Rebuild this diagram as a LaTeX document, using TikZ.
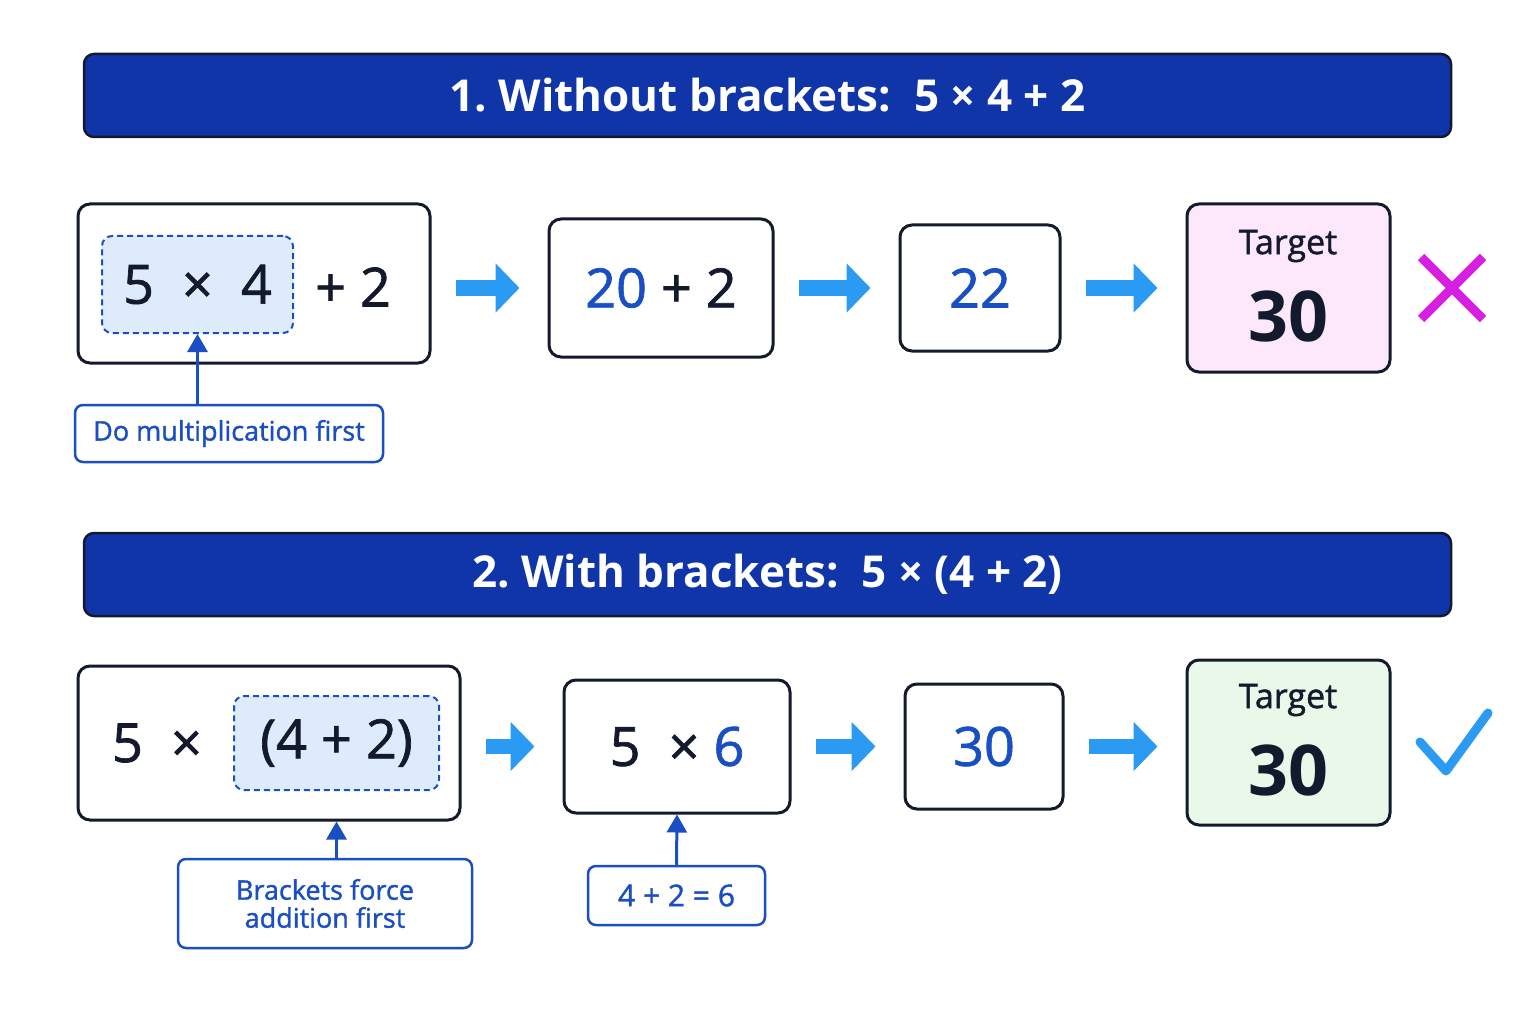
\documentclass[tikz,border=0pt]{standalone}
\usepackage{fontspec}
\setmainfont{Open Sans}
\newfontfamily\med[FakeBold=1.3]{Open Sans}
\usetikzlibrary{arrows.meta}
\definecolor{navy}{HTML}{0F35A8}
\definecolor{dark}{HTML}{141A2E}
\definecolor{tblue}{HTML}{1A4FC4}
\definecolor{arr}{HTML}{2B9AF3}
\definecolor{lblue}{HTML}{DDEBFB}
\definecolor{pinkf}{HTML}{FCE8FA}
\definecolor{greenf}{HTML}{EAF8EA}
\definecolor{mag}{HTML}{D61FE0}
\begin{document}
\begin{tikzpicture}[x=1pt,y=-1pt,
 banner/.style={draw=dark,line width=2.5pt,fill=navy,rounded corners=10pt,text=white,font=\fontsize{44}{50}\selectfont\bfseries,minimum width=1367pt,minimum height=83pt},
 box/.style={draw=dark,line width=3pt,rounded corners=12pt,fill=white,text=dark,font=\fontsize{54}{60}\selectfont\med},
 dbox/.style={draw=tblue,line width=2pt,dashed,dash pattern=on 6pt off 4pt,rounded corners=10pt,fill=lblue,text=dark,font=\fontsize{54}{60}\selectfont\med},
 call/.style={draw=tblue,line width=2.5pt,rounded corners=8pt,fill=white,text=tblue,font=\fontsize{27}{32}\selectfont\med,align=center},
 big/.style={arr,line width=15pt,-{Triangle[width=48pt,length=24pt]},shorten <=24pt,shorten >=28pt},
 up/.style={tblue,line width=3pt,-{Triangle[width=20pt,length=18pt]}}]
\useasboundingbox (0,0) rectangle (1536,1024);
\fill[white] (0,0) rectangle (1536,1024);
% row 1
\node[banner] (b1) at (767.5,95.5) {1.~Without brackets:~~5 × 4 + 2};
\node[box,minimum width=352pt,minimum height=159pt] (a1) at (254,283.5) {};
\node[dbox,minimum width=191pt,minimum height=97pt] (a1d) at (197.5,284.5) {5 ~×~ 4};
\node[text=dark,font=\fontsize{54}{60}\selectfont\med] (a1t) at (353,287) {+ 2};
\node[box,minimum width=224pt,minimum height=138pt] (b1b) at (661,288) {\textcolor{tblue}{20} + 2};
\node[box,minimum width=160pt,minimum height=126pt,text=tblue] (c1) at (980,288) {22};
\node[box,fill=pinkf,minimum width=203pt,minimum height=168pt] (d1) at (1288.5,288) {};
\node[text=dark,font=\fontsize{34}{40}\selectfont\med] (d1t) at (1288,246) {Target};
\node[text=dark,font=\fontsize{70}{76}\selectfont\bfseries] (d1n) at (1288,316) {30};
\draw[big] (a1.east|-b1b) -- (b1b.west);
\draw[big] (b1b.east) -- (c1.west);
\draw[big] (c1.east) -- (d1.west|-c1);
\draw[mag,line width=9pt] (1421,257) -- (1483,319) (1483,257) -- (1421,319);
\node[call,minimum width=308pt,minimum height=57pt] (c1a) at (229,433.5) {Do multiplication first};
\draw[up] (c1a.north-|a1d) -- (a1d.south);
% row 2
\node[banner] (b2) at (767.5,574.5) {2.~With brackets:~~5 × (4 + 2)};
\node[box,minimum width=382pt,minimum height=154pt] (a2) at (269,743) {};
\node[text=dark,font=\fontsize{54}{60}\selectfont\med] (a2t) at (157,743) {5 ~×};
\node[dbox,minimum width=205pt,minimum height=94pt] (a2d) at (336.5,743) {(4 + 2)};
\node[box,minimum width=226pt,minimum height=133pt] (b2b) at (677,746.5) {5 ~× \textcolor{tblue}{6}};
\node[box,minimum width=158pt,minimum height=125pt,text=tblue] (c2) at (984,746.5) {30};
\node[box,fill=greenf,minimum width=203pt,minimum height=165pt] (d2) at (1288.5,742.5) {};
\node[text=dark,font=\fontsize{34}{40}\selectfont\med] (d2t) at (1288,700) {Target};
\node[text=dark,font=\fontsize{70}{76}\selectfont\bfseries] (d2n) at (1288,770) {30};
\draw[big] (a2.east|-b2b) -- (b2b.west);
\draw[big] (b2b.east) -- (c2.west);
\draw[big] (c2.east) -- (d2.west|-c2);
\draw[arr,line width=9pt,line cap=round,line join=round] (1420,742) -- (1446,771) -- (1488,713);
\node[call,minimum width=294pt,minimum height=89pt] (c2a) at (325,903.5) {Brackets force\\[-4pt]addition first};
\draw[up] (c2a.north-|a2d) -- (a2d.south|-a2.south);
\node[call,minimum width=177pt,minimum height=59pt,font=\fontsize{30}{34}\selectfont\med] (c2b) at (676.5,895.5) {4 + 2 = 6};
\draw[up] (c2b.north) -- (b2b.south);
\end{tikzpicture}
\end{document}
